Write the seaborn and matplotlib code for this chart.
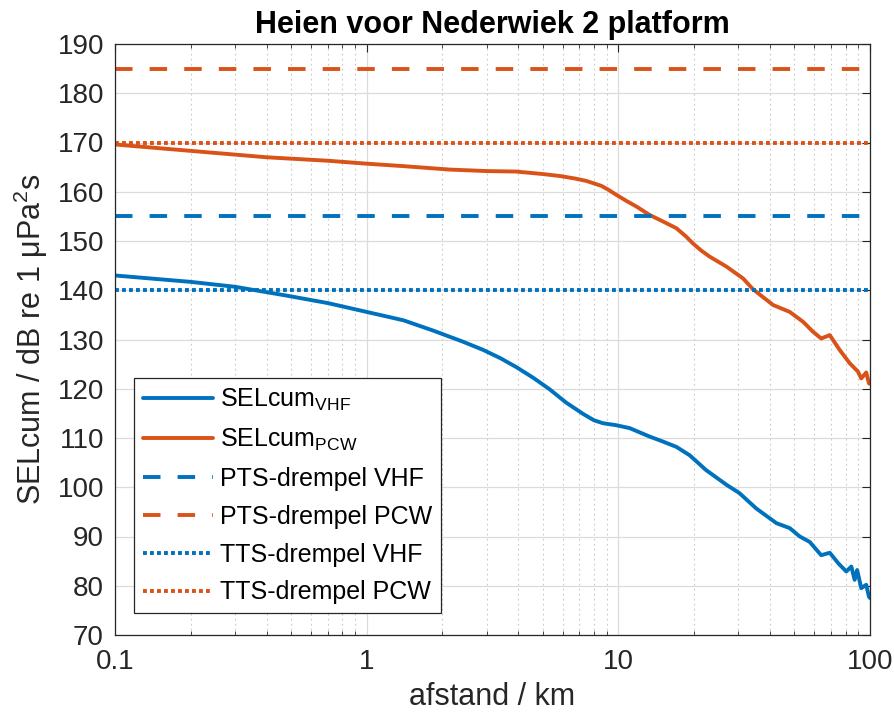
import numpy as np
import pandas as pd
import matplotlib
matplotlib.use("Agg")
import matplotlib.pyplot as plt
from matplotlib.ticker import LogLocator, FixedLocator, FixedFormatter, NullFormatter
import seaborn as sns

# Cumulative SEL versus distance, VHF weighting
dist_vhf = [0.1, 0.2, 0.3, 0.47, 0.7, 1.0, 1.4, 1.84, 2.4, 2.9, 3.4, 3.93, 4.6,
            5.33, 6.2, 7.24, 8.0, 8.69, 9.8, 11.1, 13.3, 15, 17, 19.2, 22.3,
            26.9, 30.3, 35.3, 42.5, 48, 52.6, 57.6, 64, 69.2, 75, 80.5, 84.3,
            86.9, 88.9, 92.3, 96.6, 99, 100]
sel_vhf = [143.0, 141.7, 140.7, 139.0, 137.4, 135.6, 133.9, 131.8, 129.6, 127.9,
           126.2, 124.4, 122.2, 119.9, 117.2, 114.9, 113.6, 113.0, 112.6, 112.0,
           110.3, 109.3, 108.2, 106.5, 103.5, 100.5, 98.8, 95.7, 92.7, 91.7,
           90.0, 88.9, 86.2, 86.7, 84.5, 82.9, 83.9, 81.2, 83.2, 79.5, 80.2,
           77.8, 77.5]

# Cumulative SEL versus distance, PCW weighting
dist_pcw = [0.1, 0.2, 0.4, 0.7, 1.0, 1.4, 2.14, 3.0, 3.93, 5.0, 5.85, 6.7, 7.46,
            8.56, 9.2, 9.8, 10.8, 11.8, 13.3, 15, 17, 18.5, 19.8, 21.3, 23.1,
            26.9, 31.3, 34.3, 41.2, 48, 54.2, 59.3, 64, 69.2, 75.7, 83, 89.5,
            92.3, 96.6, 99, 100]
sel_pcw = [169.6, 168.3, 167.0, 166.3, 165.7, 165.2, 164.5, 164.2, 164.1, 163.6,
           163.2, 162.7, 162.2, 161.2, 160.3, 159.4, 158.1, 157.0, 155.3, 154.0,
           152.6, 151.0, 149.5, 148.1, 146.8, 144.8, 142.4, 140.2, 137.0, 135.6,
           133.6, 131.6, 130.2, 130.9, 127.9, 125.2, 123.5, 122.1, 123.3, 121.1,
           121.0]

# Thresholds
pts_vhf = 155
pts_pcw = 185
tts_vhf = 140
tts_pcw = 170

y_ticks = list(range(70, 191, 10))
x_ticks = [0.1, 1, 10, 100]
x_tick_labels = ["0.1", "1", "10", "100"]

BLUE = "#0072BD"
ORANGE = "#D95319"
TXT = "#262626"

sns.set_theme(style="white")
plt.rcParams["font.family"] = ["Liberation Sans", "DejaVu Sans"]
plt.rcParams["mathtext.fontset"] = "custom"
plt.rcParams["mathtext.rm"] = "Liberation Sans"
plt.rcParams["mathtext.it"] = "Liberation Sans:italic"
plt.rcParams["mathtext.bf"] = "Liberation Sans:bold"

fig = plt.figure(figsize=(8.94, 7.17), dpi=100)
ax = fig.add_axes([115 / 894, 1 - 635 / 717, 755 / 894, 591 / 717])

df_vhf = pd.DataFrame({"afstand": dist_vhf, "sel": sel_vhf})
df_pcw = pd.DataFrame({"afstand": dist_pcw, "sel": sel_pcw})

lw = 2.8
sns.lineplot(data=df_vhf, x="afstand", y="sel", ax=ax, color=BLUE, lw=lw,
             label=r"SELcum$_{\mathrm{VHF}}$", estimator=None, sort=False)
sns.lineplot(data=df_pcw, x="afstand", y="sel", ax=ax, color=ORANGE, lw=lw,
             label=r"SELcum$_{\mathrm{PCW}}$", estimator=None, sort=False)

dash = (0, (4.5, 4.4))
dot = (0, (1.0, 0.8))
ax.axhline(pts_vhf, color=BLUE, lw=lw, ls=dash, label="PTS-drempel VHF")
ax.axhline(pts_pcw, color=ORANGE, lw=lw, ls=dash, label="PTS-drempel PCW")
ax.axhline(tts_vhf, color=BLUE, lw=lw, ls=dot, label="TTS-drempel VHF")
ax.axhline(tts_pcw, color=ORANGE, lw=lw, ls=dot, label="TTS-drempel PCW")

ax.set_xscale("log")
ax.set_xlim(0.1, 100)
ax.set_ylim(70, 190)
ax.xaxis.set_major_locator(FixedLocator(x_ticks))
ax.xaxis.set_major_formatter(FixedFormatter(x_tick_labels))
ax.xaxis.set_minor_locator(LogLocator(base=10, subs=np.arange(2, 10), numticks=20))
ax.xaxis.set_minor_formatter(NullFormatter())
ax.set_yticks(y_ticks)

ax.grid(True, which="major", color="#dcdcdc", lw=0.9, ls="-")
ax.grid(True, which="minor", axis="x", color="#c8c8c8", lw=0.8, ls=(0, (1.5, 3)))
ax.set_axisbelow(True)

for s in ax.spines.values():
    s.set_color(TXT)
    s.set_linewidth(0.9)
ax.tick_params(axis="both", which="major", direction="in", length=6, width=0.8,
               top=True, right=True, labelsize=20, colors=TXT)
ax.tick_params(axis="x", which="major", pad=10)
ax.tick_params(axis="y", which="major", pad=8)
ax.tick_params(axis="x", which="minor", direction="in", length=3, width=0.6,
               top=True, bottom=True, colors=TXT)

ax.set_title("Heien voor Nederwiek 2 platform", fontsize=22, fontweight="bold",
             color="black", pad=8)
ax.set_xlabel("afstand / km", fontsize=22, color=TXT, labelpad=5)
ax.set_ylabel(r"SELcum / dB re 1 μPa$^2$s", fontsize=22, color=TXT, labelpad=5)

leg = ax.legend(loc="lower left", bbox_to_anchor=(0.025, 0.037), fontsize=18,
                frameon=True, fancybox=False, framealpha=1, edgecolor=TXT,
                handlelength=2.8, handletextpad=0.3, borderpad=0.35,
                labelspacing=0.55, borderaxespad=0)
leg.get_frame().set_linewidth(0.9)
for t in leg.get_texts():
    t.set_color("black")

fig.savefig("out.png", dpi=100, facecolor="white")
